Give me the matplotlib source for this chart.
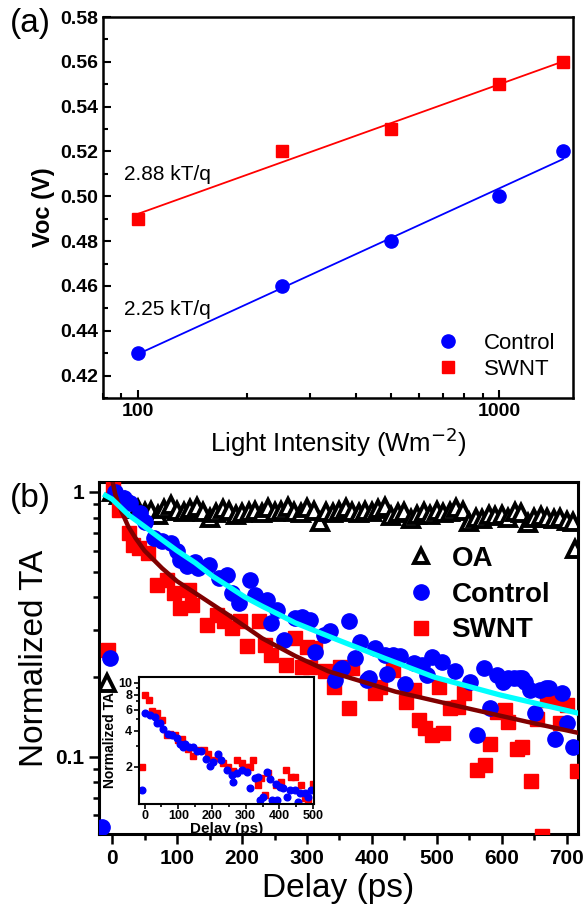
import numpy as np
import matplotlib.pyplot as plt
from matplotlib.ticker import FixedLocator, MultipleLocator, NullFormatter, FixedFormatter
from matplotlib.lines import Line2D

plt.rcParams['font.family'] = ['Liberation Sans', 'DejaVu Sans']

# ---- (a) Voc vs light intensity ----
intensity = [100, 250, 500, 1000, 1500]
voc_control = [0.43, 0.46, 0.48, 0.50, 0.52]
voc_swnt = [0.49, 0.52, 0.53, 0.55, 0.56]

# ---- (b) transient absorption ----
oa_t = [-8, 0, 10, 20, 30, 40, 50, 60, 70, 80, 90, 100, 110, 120, 130, 140, 150, 160, 170,
        180, 190, 200, 210, 220, 230, 240, 250, 260, 270, 280, 290, 300, 310, 320, 330,
        340, 350, 360, 370, 380, 390, 400, 410, 420, 430, 440, 450, 460, 470, 480, 490,
        500, 510, 520, 530, 540, 550, 560, 570, 580, 590, 600, 610, 620, 630, 640, 650,
        660, 670, 680, 690, 700, 710, 713]
oa_v = [0.19, 1.0, 0.97, 0.92, 0.88, 0.86, 0.84, 0.85, 0.82, 0.86, 0.89, 0.85, 0.84, 0.86,
        0.88, 0.84, 0.80, 0.83, 0.86, 0.85, 0.82, 0.83, 0.84, 0.85, 0.83, 0.87, 0.84, 0.85,
        0.88, 0.84, 0.83, 0.87, 0.85, 0.77, 0.84, 0.83, 0.85, 0.87, 0.84, 0.83, 0.85, 0.84,
        0.86, 0.88, 0.81, 0.83, 0.84, 0.79, 0.82, 0.84, 0.82, 0.85, 0.83, 0.84, 0.87, 0.85,
        0.77, 0.80, 0.79, 0.82, 0.81, 0.82, 0.80, 0.84, 0.83, 0.76, 0.80, 0.81, 0.80, 0.79,
        0.80, 0.78, 0.77, 0.61]

ctrl_t = [-15, -3, 5, 18, 28, 43, 51, 64, 77, 90, 100, 105, 115, 128, 133, 149, 164, 177,
          185, 195, 213, 220, 238, 244, 254, 264, 282, 292, 305, 313, 326, 336, 343, 351,
          354, 364, 374, 382, 392, 395, 405, 420, 423, 433, 443, 451, 464, 477, 485, 492,
          508, 528, 551, 561, 572, 582, 592, 602, 610, 618, 626, 631, 636, 643, 651, 659,
          667, 672, 682, 692, 700, 710]
ctrl_v = [0.054, 0.236, 1.0, 0.947, 0.906, 0.83, 0.773, 0.668, 0.65, 0.64, 0.596, 0.554,
          0.523, 0.546, 0.515, 0.53, 0.472, 0.486, 0.415, 0.38, 0.466, 0.409, 0.392, 0.32,
          0.359, 0.277, 0.334, 0.338, 0.329, 0.248, 0.288, 0.298, 0.195, 0.212, 0.216,
          0.324, 0.236, 0.272, 0.195, 0.198, 0.257, 0.242, 0.205, 0.242, 0.24, 0.188,
          0.226, 0.222, 0.203, 0.237, 0.228, 0.21, 0.192, 0.121, 0.216, 0.152, 0.203, 0.192,
          0.198, 0.198, 0.198, 0.198, 0.192, 0.179, 0.146, 0.179, 0.182, 0.181, 0.117,
          0.174, 0.134, 0.109]

swnt_t = [-6, 2, 10, 26, 33, 41, 56, 69, 85, 95, 105, 118, 123, 146, 162, 172, 185, 197,
          208, 226, 236, 244, 267, 282, 292, 300, 305, 313, 328, 341, 351, 364, 369, 405,
          413, 433, 453, 464, 472, 482, 492, 503, 510, 520, 533, 541, 562, 574, 582, 592,
          605, 610, 623, 631, 644, 654, 662, 669, 685, 690, 700, 715]
swnt_v = [0.253, 1.05, 0.855, 0.699, 0.63, 0.613, 0.587, 0.446, 0.466, 0.415, 0.364, 0.427,
          0.375, 0.315, 0.343, 0.324, 0.306, 0.324, 0.261, 0.324, 0.265, 0.242, 0.222, 0.28,
          0.219, 0.26, 0.219, 0.257, 0.21, 0.184, 0.219, 0.152, 0.216, 0.174, 0.184, 0.212,
          0.161, 0.179, 0.138, 0.128, 0.121, 0.184, 0.123, 0.152, 0.154, 0.174, 0.089, 0.093,
          0.112, 0.148, 0.15, 0.135, 0.107, 0.109, 0.081, 0.139, 0.05, 0.164, 0.165, 0.134,
          0.157, 0.088]

# fit curves
fit_ctrl_t = [-10, 0, 25, 50, 77, 100, 128, 155, 179, 205, 231, 256, 282, 341, 420, 495,
              597, 717]
fit_ctrl_v = [0.97, 0.94, 0.82, 0.74, 0.66, 0.60, 0.54, 0.48, 0.44, 0.40, 0.37, 0.345,
              0.32, 0.28, 0.235, 0.20, 0.171, 0.146]
fit_swnt_t = [0, 5, 10, 15, 25, 36, 50, 77, 100, 128, 179, 231, 282, 333, 436, 538, 641, 717]
fit_swnt_v = [1.12, 0.98, 0.90, 0.84, 0.74, 0.67, 0.60, 0.515, 0.46, 0.415, 0.343, 0.28,
              0.24, 0.21, 0.176, 0.154, 0.135, 0.123]

# inset
in_swnt_t = [-8, 2, 12, 22, 36, 51, 66, 76, 91, 100, 110, 115, 130, 145, 160, 175, 189, 204,
             219, 234, 248, 263, 273, 288, 303, 313, 322, 337, 347, 357, 367, 391, 406, 421,
             436, 446, 465, 475, 485, 500]
in_swnt_v = [2.0, 8.0, 7.26, 5.85, 5.6, 4.89, 3.67, 3.78, 3.67, 3.33, 3.44, 3.03, 2.83,
             2.47, 2.74, 2.74, 2.58, 2.27, 2.37, 2.13, 2.0, 1.86, 2.27, 2.13, 2.0, 2.0, 2.27,
             1.41, 1.6, 1.16, 1.76, 1.41, 1.5, 1.88, 1.65, 1.65, 1.41, 1.09, 1.05, 1.45]
in_ctrl_t = [-8, 2, 17, 30, 36, 46, 56, 69, 81, 96, 105, 113, 120, 132, 145, 155, 168, 182,
             194, 204, 219, 227, 244, 260, 263, 273, 288, 303, 313, 327, 337, 344, 352, 362,
             372, 377, 391, 394, 401, 411, 424, 431, 446, 454, 461, 476, 485, 495]
in_ctrl_v = [1.28, 5.66, 5.4, 5.16, 4.6, 4.6, 4.1, 3.74, 3.67, 3.5, 3.12, 2.9, 3.12, 2.93,
             2.9, 2.7, 2.7, 2.3, 2.03, 2.2, 2.55, 2.27, 1.88, 1.71, 1.5, 1.76, 1.88, 1.82,
             1.34, 1.6, 1.65, 1.05, 1.12, 1.82, 1.58, 1.05, 1.45, 1.05, 1.36, 1.32, 1.12,
             1.28, 1.28, 1.02, 1.2, 1.2, 1.12, 1.28]

fig = plt.figure(figsize=(5.87, 9.14), dpi=100)

# ================= panel (a) =================
ax1 = fig.add_axes([0.1755, 0.5646, 0.8007, 0.4168])
ax1.plot(intensity, voc_control, 'o', color='blue', ms=9.5, mec='blue', zorder=3)
ax1.plot(intensity, voc_swnt, 's', color='red', ms=8, mec='red', zorder=3)
for y, c in [(voc_control, 'blue'), (voc_swnt, 'red')]:
    p = np.polyfit(np.log10(intensity), y, 1)
    xs = np.array([intensity[0], intensity[-1]])
    ax1.plot(xs, np.polyval(p, np.log10(xs)), '-', color=c, lw=1.3, zorder=2)

ax1.set_xscale('log')
ax1.set_xlim(80, 1600)
ax1.set_ylim(0.41, 0.58)
ax1.yaxis.set_major_locator(MultipleLocator(0.02))
ax1.yaxis.set_minor_locator(MultipleLocator(0.01))
ax1.yaxis.set_major_formatter(lambda v, pos: f'{v:.2f}')
ax1.xaxis.set_major_locator(FixedLocator([100, 1000]))
ax1.xaxis.set_major_formatter(FixedFormatter(['100', '1000']))
ax1.xaxis.set_minor_locator(FixedLocator([80, 90, 200, 300, 400, 500, 600, 700, 800, 900]))
ax1.xaxis.set_minor_formatter(NullFormatter())
ax1.tick_params(which='both', direction='in', width=1.5, labelsize=14)
ax1.tick_params(which='major', length=6)
ax1.tick_params(which='minor', length=3.5)
for lab in ax1.get_xticklabels() + ax1.get_yticklabels():
    lab.set_fontweight('bold')
for s in ax1.spines.values():
    s.set_linewidth(1.8)
ax1.set_xlabel('Light Intensity (Wm$^{-2}$)', fontsize=18.5, labelpad=4)
ax1.set_ylabel('Voc (V)', fontsize=17, fontweight='bold', labelpad=4)
ax1.text(0.045, 0.571, '2.88 kT/q', transform=ax1.transAxes, fontsize=15)
ax1.text(0.045, 0.217, '2.25 kT/q', transform=ax1.transAxes, fontsize=15)
h1 = [Line2D([], [], ls='', marker='o', color='blue', ms=9.5),
      Line2D([], [], ls='', marker='s', color='red', ms=8)]
ax1.legend(h1, ['Control', 'SWNT'], loc='lower right', bbox_to_anchor=(1.0, 0.0),
           frameon=False, fontsize=16, handletextpad=0.6, labelspacing=0.25,
           borderaxespad=0.4)
fig.text(0.017, 0.965, '(a)', fontsize=24)

# ================= panel (b) =================
ax2 = fig.add_axes([0.1687, 0.0875, 0.816, 0.3851])
ax2.plot(oa_t, oa_v, '^', mfc='white', mec='black', mew=2.8, ms=11, ls='', zorder=2)
ax2.plot(swnt_t, swnt_v, 's', color='red', ms=9.5, ls='', zorder=3)
ax2.plot(ctrl_t, ctrl_v, 'o', color='blue', ms=11, ls='', zorder=4)
ax2.plot(fit_swnt_t, fit_swnt_v, '-', color='#800000', lw=3.2, zorder=5)
ax2.plot(fit_ctrl_t, fit_ctrl_v, '-', color='cyan', lw=3.8, zorder=6)
ax2.set_yscale('log')
ax2.set_xlim(-20, 717)
ax2.set_ylim(0.051, 1.09)
ax2.xaxis.set_major_locator(MultipleLocator(100))
ax2.xaxis.set_minor_locator(MultipleLocator(50))
ax2.yaxis.set_major_locator(FixedLocator([0.1, 1]))
ax2.yaxis.set_major_formatter(FixedFormatter(['0.1', '1']))
ax2.yaxis.set_minor_locator(FixedLocator([0.06, 0.07, 0.08, 0.09, 0.2, 0.3, 0.4, 0.5,
                                          0.6, 0.7, 0.8, 0.9]))
ax2.yaxis.set_minor_formatter(NullFormatter())
ax2.tick_params(which='both', direction='out', width=1.8, labelsize=15)
ax2.tick_params(which='major', length=7)
ax2.tick_params(which='minor', length=4)
for lab in ax2.get_xticklabels() + ax2.get_yticklabels():
    lab.set_fontweight('bold')
for s in ax2.spines.values():
    s.set_linewidth(2.2)
ax2.set_xlabel('Delay (ps)', fontsize=24, labelpad=4)
ax2.set_ylabel('Normalized TA', fontsize=24, labelpad=4)
h2 = [Line2D([], [], ls='', marker='^', mfc='white', mec='black', mew=2.8, ms=10),
      Line2D([], [], ls='', marker='o', color='blue', ms=11),
      Line2D([], [], ls='', marker='s', color='red', ms=9.5)]
ax2.legend(h2, ['OA', 'Control', 'SWNT'], loc='upper left', bbox_to_anchor=(0.62, 0.85),
           frameon=False, prop={'size': 20, 'weight': 'bold'}, handlelength=1.0,
           handletextpad=0.6, labelspacing=0.35, borderaxespad=0)
fig.text(0.017, 0.445, '(b)', fontsize=24)

# inset
ax3 = fig.add_axes([0.236, 0.1204, 0.299, 0.1389])
ax3.plot(in_swnt_t, in_swnt_v, 's', color='red', ms=4.2, ls='')
ax3.plot(in_ctrl_t, in_ctrl_v, 'o', color='blue', ms=4.8, ls='')
ax3.set_yscale('log')
ax3.set_xlim(-18, 503)
ax3.set_ylim(0.98, 11.2)
ax3.xaxis.set_major_locator(MultipleLocator(100))
ax3.xaxis.set_minor_locator(MultipleLocator(50))
ax3.yaxis.set_major_locator(FixedLocator([2, 4, 6, 8, 10]))
ax3.yaxis.set_major_formatter(FixedFormatter(['2', '4', '6', '8', '10']))
ax3.yaxis.set_minor_locator(FixedLocator([3, 5, 7, 9]))
ax3.yaxis.set_minor_formatter(NullFormatter())
ax3.tick_params(which='both', direction='out', width=1.2, labelsize=9, pad=1)
ax3.tick_params(which='major', length=3.5)
ax3.tick_params(which='minor', length=2)
for lab in ax3.get_xticklabels() + ax3.get_yticklabels():
    lab.set_fontweight('bold')
for s in ax3.spines.values():
    s.set_linewidth(1.5)
ax3.set_xlabel('Delay (ps)', fontsize=11, fontweight='bold', labelpad=0)
ax3.set_ylabel('Normalized TA', fontsize=10, fontweight='bold', labelpad=1)

fig.savefig('out.png', dpi=100)
